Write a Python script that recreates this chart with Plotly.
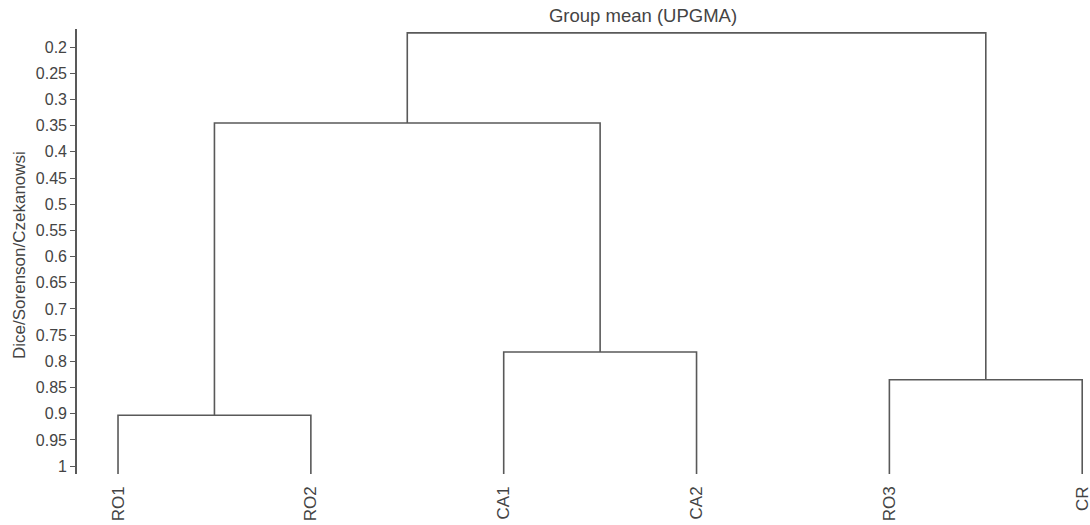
import plotly.graph_objects as go

# ---- data ----
leaves = ["RO1", "RO2", "CA1", "CA2", "RO3", "CR"]
# merges: (left node, right node, height); nodes 0-5 are leaves, 6+ are clusters
merge_left = [0, 2, 4, 6, 8]
merge_right = [1, 3, 5, 7, 9]
merge_height = [0.903, 0.782, 0.835, 0.345, 0.173]
y_ticks = [0.2, 0.25, 0.3, 0.35, 0.4, 0.45, 0.5, 0.55, 0.6, 0.65, 0.7, 0.75,
           0.8, 0.85, 0.9, 0.95, 1]
y_tick_text = ["0.2", "0.25", "0.3", "0.35", "0.4", "0.45", "0.5", "0.55", "0.6",
               "0.65", "0.7", "0.75", "0.8", "0.85", "0.9", "0.95", "1"]
y_bottom = 1.015
y_top = 0.1656

# ---- build dendrogram segments ----
node_x = {i: float(i) for i in range(len(leaves))}
node_h = {i: y_bottom for i in range(len(leaves))}
xs, ys = [], []
for k, (a, b, h) in enumerate(zip(merge_left, merge_right, merge_height)):
    nid = len(leaves) + k
    xa, xb = node_x[a], node_x[b]
    xs += [xa, xa, xb, xb, None]
    ys += [node_h[a], h, h, node_h[b], None]
    node_x[nid] = (xa + xb) / 2
    node_h[nid] = h

line_col = "#595959"
text_col = "#444444"
font_fam = "Liberation Sans, Arial, sans-serif"

fig = go.Figure()
fig.add_trace(go.Scatter(x=xs, y=ys, mode="lines",
                         line=dict(color=line_col, width=1.6),
                         hoverinfo="skip", showlegend=False))

W, H = 1090, 525
ml, mr, mt, mb = 77, 2, 29, 51
fig.update_layout(
    width=W, height=H,
    margin=dict(l=ml, r=mr, t=mt, b=mb),
    paper_bgcolor="white", plot_bgcolor="white",
    font=dict(family=font_fam, color=text_col),
    title=dict(text="Group mean (UPGMA)", x=(643 - ml) / (W - ml - mr), xref="paper",
               xanchor="center", y=1 - 16 / H, yref="container", yanchor="middle",
               font=dict(size=18.5, color=text_col, family=font_fam)),
    xaxis=dict(range=[-0.2127, 5.03], tickmode="array",
               tickvals=list(range(len(leaves))), ticktext=leaves,
               tickangle=-90, showgrid=False, zeroline=False, showline=False,
               ticks="", tickfont=dict(size=17, color=text_col), ticklabelstandoff=8,
               ticklabeloverflow="allow", automargin=False),
    yaxis=dict(range=[y_bottom, y_top], tickmode="array", tickvals=y_ticks,
               ticktext=y_tick_text, showgrid=False, zeroline=False,
               showline=True, linecolor=line_col, linewidth=1.6,
               ticks="outside", ticklen=5, tickwidth=1.2, tickcolor=line_col,
               tickfont=dict(size=16, color=text_col), automargin=False),
    annotations=[dict(text="Dice/Sorenson/Czekanowsi", xref="paper", yref="paper",
                      x=(19 - ml) / (W - ml - mr), y=(H - mb - 255) / (H - mt - mb),
                      xanchor="center", yanchor="middle", textangle=-90,
                      showarrow=False, font=dict(size=17, color=text_col))],
)

fig.write_html("out.html", config={"displayModeBar": False})

# remove the default page margin so the figure sits at the window's top-left corner
with open("out.html", "r", encoding="utf-8") as f:
    html = f.read()
html = html.replace("<head>", "<head><style>html,body{margin:0;padding:0;overflow:hidden;}</style>", 1)
with open("out.html", "w", encoding="utf-8") as f:
    f.write(html)
